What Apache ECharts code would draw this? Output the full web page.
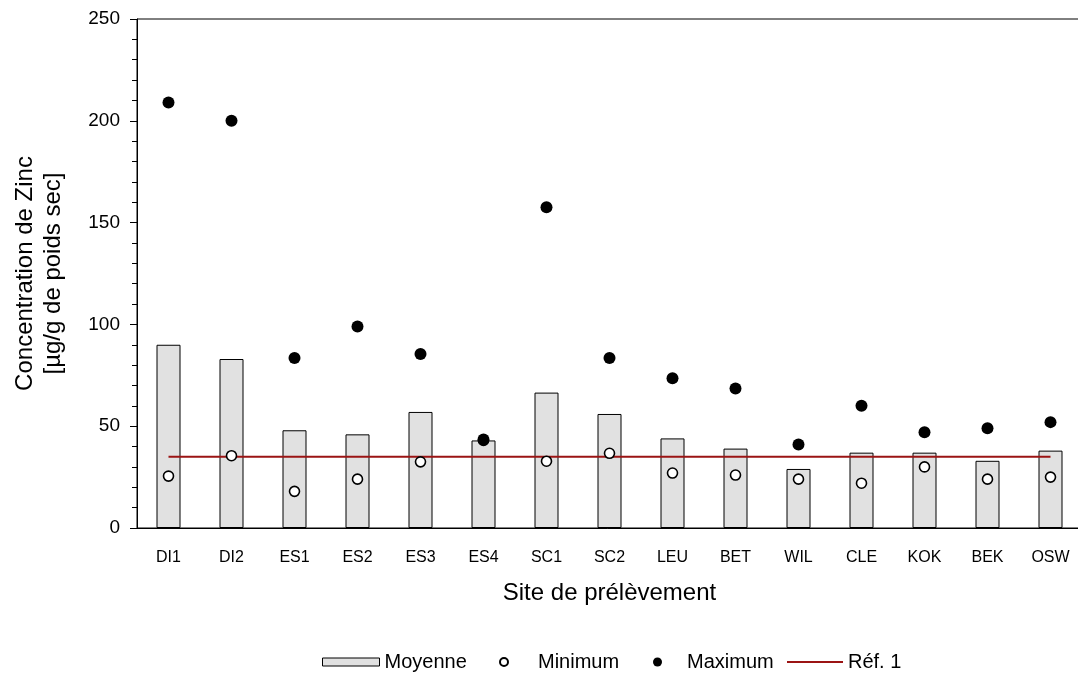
<!DOCTYPE html>
<html>
<head>
<meta charset="utf-8">
<script src="https://cdn.jsdelivr.net/npm/echarts@6/dist/echarts.min.js"></script>
<style>
  html, body { margin: 0; padding: 0; background: #fff; }
  #chart { width: 1078px; height: 675px; }
</style>
</head>
<body>
<div id="chart"></div>
<script>
const categories = ['DI1','DI2','ES1','ES2','ES3','ES4','SC1','SC2','LEU','BET','WIL','CLE','KOK','BEK','OSW'];
const moyenne = [90, 83, 48, 46, 57, 43, 66.5, 56, 44, 39, 29, 37, 37, 33, 38];
const minimum = [25.5, 35.5, 18, 24, 32.5, 43, 32.8, 36.7, 27, 26, 24, 22, 30, 24, 25];
const maximum = [209, 200, 83.5, 99, 85.5, 43.5, 157.5, 83.5, 73.5, 68.5, 41, 60, 47, 49, 52];
const refValue = 35;
const ref1 = categories.map(() => refValue);
const yTicks = { min: 0, max: 250, interval: 50 };

const FONT = '"Liberation Sans", Arial, sans-serif';
const legendText = { fontFamily: FONT, fontSize: 20, color: '#000' };
const LEG_TOP = 647;

const chart = echarts.init(document.getElementById('chart'), null, { renderer: 'canvas' });
chart.setOption({
  animation: false,
  backgroundColor: '#ffffff',
  textStyle: { fontFamily: FONT, color: '#000' },
  grid: {
    left: 137, top: 19, width: 945, height: 509,
    outerBoundsMode: 'none',
    containLabel: false,
    show: true, borderColor: '#000', borderWidth: 1, backgroundColor: 'transparent'
  },
  legend: [
    {
      left: 317, top: LEG_TOP, itemWidth: 57, itemHeight: 8,
      itemStyle: { borderWidth: 1, borderColor: '#000' },
      textStyle: legendText,
      data: [{ name: 'Moyenne', icon: 'rect' }]
    },
    {
      left: 494, top: LEG_TOP, itemWidth: 8, itemHeight: 8,
      textStyle: Object.assign({ padding: [0, 0, 0, 25] }, legendText),
      data: [{ name: 'Minimum', icon: 'circle' }]
    },
    {
      left: 648, top: LEG_TOP, itemWidth: 9, itemHeight: 9,
      textStyle: Object.assign({ padding: [0, 0, 0, 20] }, legendText),
      data: [{ name: 'Maximum', icon: 'circle' }]
    },
    {
      left: 782, top: LEG_TOP, itemWidth: 56, itemHeight: 2,
      textStyle: legendText,
      data: [{ name: 'Réf. 1', icon: 'rect' }]
    }
  ],
  xAxis: {
    type: 'category',
    data: categories,
    name: 'Site de prélèvement',
    nameLocation: 'middle',
    nameGap: 53,
    nameTextStyle: { fontFamily: FONT, fontSize: 24, color: '#000' },
    axisLine: { lineStyle: { color: '#000', width: 1 } },
    axisTick: { length: 6, lineStyle: { color: '#000' } },
    axisLabel: { fontFamily: FONT, fontSize: 16, color: '#000', margin: 22, interval: 0 },
    splitLine: { show: false }
  },
  yAxis: {
    type: 'value',
    min: yTicks.min, max: yTicks.max, interval: yTicks.interval,
    name: 'Concentration de Zinc\n[µg/g de poids sec]',
    nameLocation: 'middle',
    nameGap: 70,
    nameTextStyle: { fontFamily: FONT, fontSize: 24, color: '#000', lineHeight: 28 },
    axisLine: { show: true, lineStyle: { color: '#000', width: 1 } },
    axisTick: { show: true, length: 7, lineStyle: { color: '#000' } },
    minorTick: { show: true, splitNumber: 5, length: 5, lineStyle: { color: '#000' } },
    axisLabel: { fontFamily: FONT, fontSize: 19, color: '#000', margin: 17 },
    splitLine: { show: false }
  },
  series: [
    {
      name: 'Moyenne', type: 'bar', data: moyenne, barWidth: 24,
      itemStyle: { color: '#e1e1e1', borderColor: '#000', borderWidth: 1 },
      z: 2
    },
    {
      name: 'Réf. 1', type: 'line', data: ref1, symbol: 'none',
      lineStyle: { color: '#9b1414', width: 2 },
      itemStyle: { color: '#9b1414' },
      z: 3
    },
    {
      name: 'Minimum', type: 'scatter', data: minimum, symbol: 'circle', symbolSize: 10,
      itemStyle: { color: '#ffffff', borderColor: '#000', borderWidth: 1.6, opacity: 1 },
      z: 4
    },
    {
      name: 'Maximum', type: 'scatter', data: maximum, symbol: 'circle', symbolSize: 12,
      itemStyle: { color: '#000', opacity: 1 },
      z: 5
    }
  ]
});
</script>
</body>
</html>
